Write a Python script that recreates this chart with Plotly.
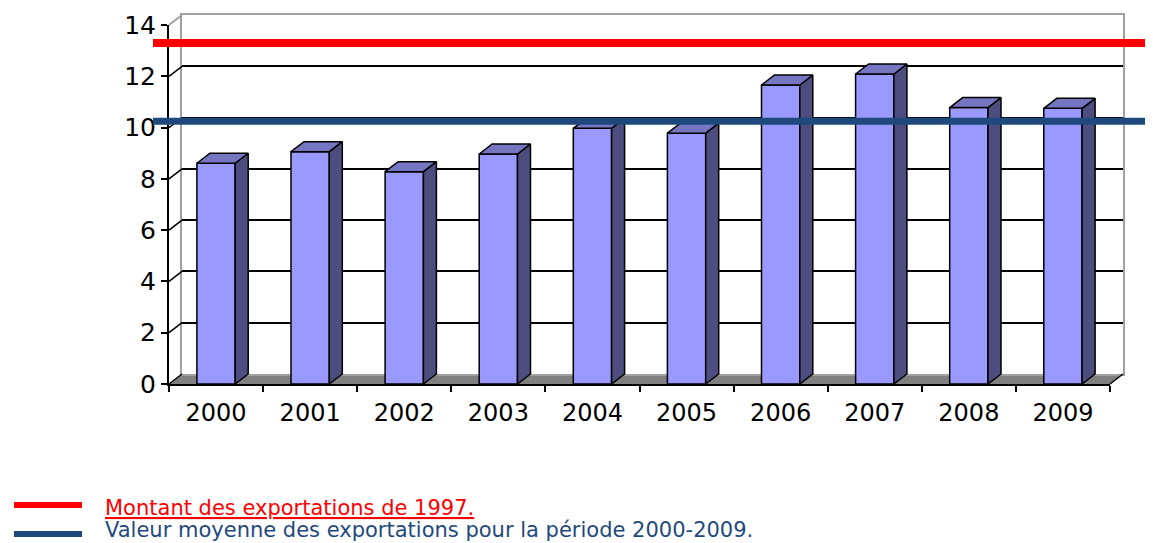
"""Exportations 2000-2009: 3D-style column chart with two reference lines."""

import plotly.graph_objects as go

years = ["2000", "2001", "2002", "2003", "2004", "2005", "2006", "2007", "2008", "2009"]
exports = [8.61, 9.06, 8.28, 8.97, 9.97, 9.78, 11.66, 12.09, 10.78, 10.75]
export_1997 = 13.3
mean_2000_2009 = 10.25
y_ticks = [0, 2, 4, 6, 8, 10, 12, 14]

label_1997 = "Montant des exportations de 1997."
label_mean = "Valeur moyenne des exportations pour la période 2000-2009."

# the page body adds an 8px margin, so the figure is drawn 8px in from the corner
PAGE = 8
W, H = 1153 - PAGE, 543 - PAGE
FONT = "DejaVu Sans"
FRONT = "#9999FF"
TOP = "#7575C2"
SIDE = "#4D4D80"
RED = "#FF0000"
BLUE = "#1F497D"


def fx(x):
    return (x - PAGE) / W


def fy(y):
    return 1 - (y - PAGE) / H


# front plane and back wall, in window pixels
fx0, fx1, fy0, fy1 = 169, 1110, 25, 384
off_x, off_y = 13, 10
ymax = 14
n = len(years)

# depth offset in data units of the front axes
dx = off_x / (fx1 - fx0) * n
dy = off_y / (fy1 - fy0) * ymax
half = 0.2035

xs = list(range(n))

# top and side faces of each column
top_x, top_y, side_x, side_y = [], [], [], []
for i, v in zip(xs, exports):
    top_x += [i - half, i - half + dx, i + half + dx, i + half, i - half, None]
    top_y += [v, v + dy, v + dy, v, v, None]
    side_x += [i + half, i + half, i + half + dx, i + half + dx, i + half, None]
    side_y += [0, v, v + dy, dy, 0, None]

fig = go.Figure()

# keeps the back-wall subplot alive
fig.add_trace(go.Scatter(x=[None], y=[None], xaxis="x", yaxis="y",
                         hoverinfo="skip", showlegend=False))
fig.add_trace(go.Bar(
    x=xs, y=exports, width=2 * half, xaxis="x2", yaxis="y2",
    marker=dict(color=FRONT, line=dict(color="black", width=1.5)),
    hoverinfo="skip", showlegend=False,
))
fig.add_trace(go.Scatter(
    x=side_x, y=side_y, xaxis="x2", yaxis="y2", mode="lines", fill="toself",
    fillcolor=SIDE, line=dict(color="black", width=1.5),
    hoverinfo="skip", showlegend=False,
))
fig.add_trace(go.Scatter(
    x=top_x, y=top_y, xaxis="x2", yaxis="y2", mode="lines", fill="toself",
    fillcolor=TOP, line=dict(color="black", width=1.5),
    hoverinfo="skip", showlegend=False,
))

# frame pieces in domain units of the front axes
dxd = off_x / (fx1 - fx0)
dyd = off_y / (fy1 - fy0)
shapes = [
    dict(type="path", xref="x2 domain", yref="y2 domain", layer="below",
         path=f"M 0,0 L 1,0 L {1 + dxd},{dyd} L {dxd},{dyd} Z",
         fillcolor="#808080", line=dict(width=0)),
    dict(type="line", xref="x2 domain", yref="y2 domain", x0=1, y0=0, x1=1 + dxd, y1=dyd,
         line=dict(color="black", width=1.5)),
]
for t in y_ticks:
    shapes.append(dict(
        type="line", xref="x2 domain", yref="y2 domain",
        x0=0, y0=t / ymax, x1=dxd, y1=t / ymax + dyd,
        line=dict(color="#A0A0A0" if t == ymax else "black", width=1.5 if t < ymax else 2),
    ))

# reference lines across the chart
for val, col, lw in [(export_1997, RED, 8), (mean_2000_2009, BLUE, 7)]:
    shapes.append(dict(type="line", xref="paper", yref="y2", x0=fx(153), x1=1,
                       y0=val, y1=val, line=dict(color=col, width=lw)))

# legend keys
for py, col in [(505, RED), (534, BLUE)]:
    shapes.append(dict(type="line", xref="paper", yref="paper", x0=fx(14), x1=fx(82),
                       y0=fy(py), y1=fy(py), line=dict(color=col, width=6)))

annotations = [
    dict(text=label_1997, xref="paper", yref="paper", x=fx(103), y=fy(508),
         xanchor="left", yanchor="middle", showarrow=False,
         font=dict(family=FONT, size=21, color=RED, lineposition="under")),
    dict(text=label_mean, xref="paper", yref="paper", x=fx(103), y=fy(530),
         xanchor="left", yanchor="middle", showarrow=False,
         font=dict(family=FONT, size=21, color=BLUE)),
]

fig.update_layout(
    width=W, height=H,
    margin=dict(l=0, r=0, t=0, b=0, pad=0, autoexpand=False),
    paper_bgcolor="white", plot_bgcolor="rgba(0,0,0,0)",
    showlegend=False,
    shapes=shapes, annotations=annotations,
    # back wall
    xaxis=dict(domain=[fx(fx0 + off_x), fx(fx1 + off_x)], range=[-0.5, n - 0.5],
               showgrid=False, zeroline=False, showticklabels=False, ticks="",
               showline=True, linecolor="#A0A0A0", linewidth=2, mirror=True,
               automargin=False),
    yaxis=dict(domain=[fy(fy1 - off_y), fy(fy0 - off_y)], range=[0, ymax],
               tickvals=y_ticks[:-1], showgrid=True, gridcolor="black", gridwidth=1.5,
               zeroline=False, showticklabels=False, ticks="",
               showline=True, linecolor="#A0A0A0", linewidth=2, mirror=True,
               automargin=False),
    # front plane
    xaxis2=dict(domain=[fx(fx0), fx(fx1)], range=[-0.5, n - 0.5], anchor="y2",
                tickvals=xs, ticktext=years, ticks="", showgrid=False, zeroline=False,
                showline=True, linecolor="black", linewidth=2,
                minor=dict(tickmode="linear", tick0=-0.5, dtick=1, ticks="outside",
                           ticklen=6, tickwidth=1.5, tickcolor="black"),
                ticklabelstandoff=6, automargin=False,
                tickfont=dict(family=FONT, size=24, color="black")),
    yaxis2=dict(domain=[fy(fy1), fy(fy0)], range=[0, ymax], anchor="x2",
                tickvals=y_ticks, showgrid=False, zeroline=False,
                showline=True, linecolor="black", linewidth=2,
                ticks="outside", ticklen=6, tickwidth=1.5, tickcolor="black",
                automargin=False,
                tickfont=dict(family=FONT, size=25, color="black")),
)

fig.write_html("out.html")
